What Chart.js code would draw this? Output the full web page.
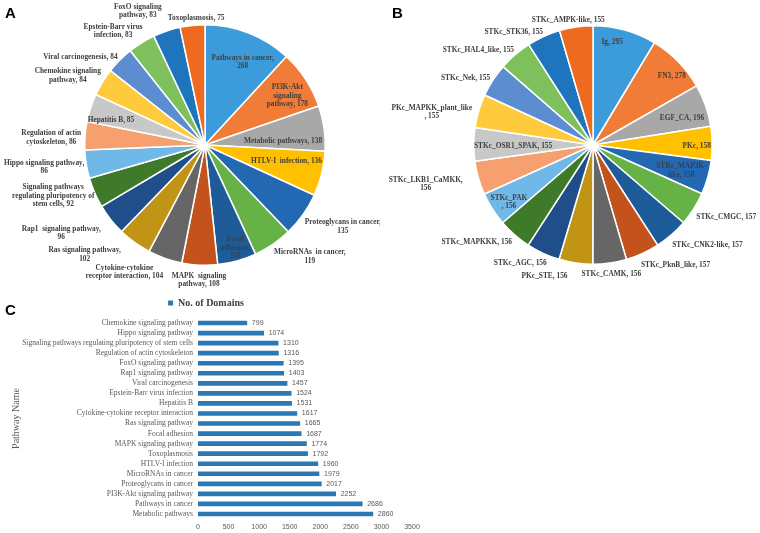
<!DOCTYPE html>
<html>
<head>
<meta charset="utf-8">
<script src="https://cdn.jsdelivr.net/npm/chart.js@4.4.1/dist/chart.umd.min.js"></script>
<style>
    html, body { margin: 0; padding: 0; background: #fff; }
    #page { position: relative; width: 760px; height: 533px; overflow: hidden; }
    .panel { position: absolute; }
    .tag { position: absolute; font: bold 15px "Liberation Sans", Arial, sans-serif; color: #000; line-height: 15px; }
</style>
</head>
<body>
<div id="page">
    <div class="panel" style="left:0;top:0;width:380px;height:290px;"><canvas id="pieA"></canvas></div>
    <div class="panel" style="left:380px;top:0;width:380px;height:290px;"><canvas id="pieB"></canvas></div>
    <div class="panel" style="left:0;top:288px;width:430px;height:245px;"><canvas id="barC"></canvas></div>
    <div class="tag" style="left:5px;top:5px;">A</div>
    <div class="tag" style="left:392px;top:5px;">B</div>
    <div class="tag" style="left:5px;top:302px;">C</div>
</div>
<script>
// Panel A: top pathways (pie)
const pathwayNamesA = [
    'Pathways in cancer,|{v}', 'PI3K-Akt|signaling|pathway, {v}', 'Metabolic pathways, {v}', 'HTLV-I  infection, {v}',
    'Proteoglycans in cancer,|{v}', 'MicroRNAs  in cancer,|{v}', 'Focal|adhesion,|{v}', 'MAPK  signaling|pathway, {v}',
    'Cytokine-cytokine|receptor interaction, {v}', 'Ras signaling pathway,|{v}', 'Rap1  signaling pathway,|{v}',
    'Signaling pathways|regulating pluripotency of|stem cells, {v}', 'Hippo signaling pathway,|{v}',
    'Regulation of actin|cytoskeleton, {v}', 'Hepatitis B, {v}', 'Chemokine signaling|pathway, {v}',
    'Viral carcinogenesis, {v}', 'Epstein-Barr virus|infection, {v}', 'FoxO signaling|pathway, {v}', 'Toxoplasmosis, {v}'
];
const pathwayCountsA = [268, 178, 138, 136, 135, 119, 118, 108, 104, 102, 96, 92, 86, 86, 85, 84, 84, 83, 83, 75];

// Panel B: top domains (pie)
const domainNamesB = [
    'Ig, {v}', 'FN3, {v}', 'EGF_CA, {v}', 'PKc, {v}', 'STKc_MAP3K-|like, {v}', 'STKc_CMGC, {v}', 'STKc_CNK2-like, {v}',
    'STKc_PknB_like, {v}', 'STKc_CAMK, {v}', 'PKc_STE, {v}', 'STKc_AGC, {v}', 'STKc_MAPKKK, {v}', 'STKc_PAK|, {v}',
    'STKc_LKB1_CaMKK,|{v}', 'STKc_OSR1_SPAK, {v}', 'PKc_MAPKK_plant_like|, {v}', 'STKc_Nek, {v}', 'STKc_HAL4_like, {v}',
    'STKc_STK36, {v}', 'STKc_AMPK-like, {v}'
];
const domainCountsB = [295, 278, 196, 158, 158, 157, 157, 157, 156, 156, 156, 156, 156, 156, 155, 155, 155, 155, 155, 155];

// Panel C: domains per pathway (horizontal bars, top to bottom)
const pathwayNamesC = [
    'Chemokine signaling pathway', 'Hippo signaling pathway', 'Signaling pathways regulating pluripotency of stem cells',
    'Regulation of actin cytoskeleton', 'FoxO signaling pathway', 'Rap1 signaling pathway', 'Viral carcinogenesis',
    'Epstein-Barr virus infection', 'Hepatitis B', 'Cytokine-cytokine receptor interaction', 'Ras signaling pathway',
    'Focal adhesion', 'MAPK signaling pathway', 'Toxoplasmosis', 'HTLV-I infection', 'MicroRNAs in cancer',
    'Proteoglycans in cancer', 'PI3K-Akt signaling pathway', 'Pathways in cancer', 'Metabolic pathways'
];
const domainCountsC = [799, 1074, 1310, 1316, 1395, 1403, 1457, 1524, 1531, 1617, 1665, 1687, 1774, 1792, 1960, 1979, 2017, 2252, 2686, 2860];
const xTicksC = [0, 500, 1000, 1500, 2000, 2500, 3000, 3500];

const sliceColors = [
    '#3b9bdb', '#f07c38', '#a8a8a8', '#ffc000', '#2368b3', '#66b246',
    '#1d5c98', '#c4521c', '#666666', '#c29416', '#1f4e8a', '#3e7a2a',
    '#70b8e8', '#f5a06e', '#c8c8c8', '#ffcb3c', '#5b8dd0', '#7dc05c',
    '#1f74be', '#ee6a1e'
];

// label placement: [radius factor, angle shift in degrees]
const placeA = [
    [0.76, 3], [0.80, 2], [0.65, 5], [0.69, -3], [1.33, -5], [1.27, -9], [0.89, -1], [1.12, 0],
    [1.25, 13], [1.35, 12], [1.40, 7], [1.33, 5], [1.35, 1.5], [1.28, -1.5], [0.81, -3], [1.28, -4.6],
    [1.27, -9.6], [1.22, -7], [1.25, -8], [1.06, 2]
];
const placeB = [
    [0.88, -5], [0.88, 3], [0.78, 2.5], [0.87, 1], [0.77, 0], [1.27, -4], [1.27, -8], [1.22, -10],
    [1.09, 0], [1.17, 12], [1.16, 7], [1.27, 9], [0.85, -1.5], [1.44, 3], [0.67, -1], [1.38, -5],
    [1.21, -5], [1.25, -9.5], [1.16, -10.5], [1.07, -3]
];

const makeSliceLabels = (names, values, place) => ({
    id: 'sliceLabels',
    afterDatasetsDraw(chart) {
        const ctx = chart.ctx;
        const arcs = chart.getDatasetMeta(0).data;
        ctx.save();
        ctx.font = 'bold 9px "Liberation Serif", serif';
        ctx.fillStyle = '#404040';
        ctx.textAlign = 'center';
        ctx.textBaseline = 'middle';
        arcs.forEach((arc, i) => {
            const [f, shift] = place[i];
            const a = (arc.startAngle + arc.endAngle) / 2 + shift * Math.PI / 180;
            const x = arc.x + Math.cos(a) * arc.outerRadius * f;
            const y = arc.y + Math.sin(a) * arc.outerRadius * f;
            const lines = names[i].replace('{v}', values[i]).split('|');
            lines.forEach((line, k) => {
                ctx.save();
                ctx.translate(x, y + (k - (lines.length - 1) / 2) * 8.5);
                ctx.scale(0.82, 1); // the source text is a little condensed
                ctx.fillText(line, 0, 0);
                ctx.restore();
            });
        });
        ctx.restore();
    }
});

const pieOptions = (padding) => ({
    responsive: true,
    maintainAspectRatio: false,
    animation: false,
    layout: { padding: padding },
    plugins: { legend: { display: false }, tooltip: { enabled: false } }
});

new Chart(document.getElementById('pieA'), {
    type: 'pie',
    data: {
        labels: pathwayNamesA,
        datasets: [{ data: pathwayCountsA, backgroundColor: sliceColors, borderColor: '#fff', borderWidth: 1.5 }]
    },
    options: pieOptions({ left: 84, right: 54, top: 24, bottom: 24 }),
    plugins: [makeSliceLabels(pathwayNamesA, pathwayCountsA, placeA)]
});

new Chart(document.getElementById('pieB'), {
    type: 'pie',
    data: {
        labels: domainNamesB,
        datasets: [{ data: domainCountsB, backgroundColor: sliceColors, borderColor: '#fff', borderWidth: 1.5 }]
    },
    options: pieOptions({ left: 93, right: 47, top: 25, bottom: 25 }),
    plugins: [makeSliceLabels(domainNamesB, domainCountsB, placeB)]
});

const barValues = {
    id: 'barValues',
    afterDatasetsDraw(chart) {
        const ctx = chart.ctx;
        ctx.save();
        ctx.font = '7px "Liberation Sans", sans-serif';
        ctx.fillStyle = '#595959';
        ctx.textAlign = 'left';
        ctx.textBaseline = 'middle';
        chart.getDatasetMeta(0).data.forEach((bar, i) => {
            ctx.fillText(domainCountsC[i], bar.x + 5, bar.y);
        });
        ctx.restore();
    }
};

new Chart(document.getElementById('barC'), {
    type: 'bar',
    data: {
        labels: pathwayNamesC,
        datasets: [{
            label: 'No. of Domains',
            data: domainCountsC,
            backgroundColor: '#2a79b4',
            barThickness: 4
        }]
    },
    options: {
        indexAxis: 'y',
        responsive: true,
        maintainAspectRatio: false,
        animation: false,
        layout: { padding: { left: 0, right: 18, top: 0, bottom: 0 } },
        plugins: {
            legend: {
                position: 'top',
                labels: {
                    boxWidth: 5, boxHeight: 5, padding: 10, color: '#404040',
                    font: { family: '"Liberation Serif", serif', size: 10, weight: 'bold' }
                }
            },
            tooltip: { enabled: false }
        },
        scales: {
            x: {
                min: xTicksC[0],
                max: xTicksC[xTicksC.length - 1],
                afterBuildTicks: (s) => { s.ticks = xTicksC.map(v => ({ value: v })); },
                ticks: {
                    color: '#595959', padding: 4, font: { family: '"Liberation Sans", sans-serif', size: 7 },
                    callback: (v) => String(v)
                },
                grid: { display: false, drawTicks: false },
                border: { display: false },
                afterFit: (s) => { s.height = 14; }
            },
            y: {
                ticks: {
                    color: '#595959', padding: 5, autoSkip: false,
                    font: { family: '"Liberation Serif", serif', size: 7.5 }
                },
                grid: { display: false, drawTicks: false },
                border: { display: false },
                title: {
                    display: true, text: 'Pathway Name', color: '#595959', padding: { top: 10, bottom: 0 },
                    font: { family: '"Liberation Serif", serif', size: 10 }
                },
                afterFit: (s) => { s.width = 198; }
            }
        }
    },
    plugins: [barValues]
});
</script>
</body>
</html>
